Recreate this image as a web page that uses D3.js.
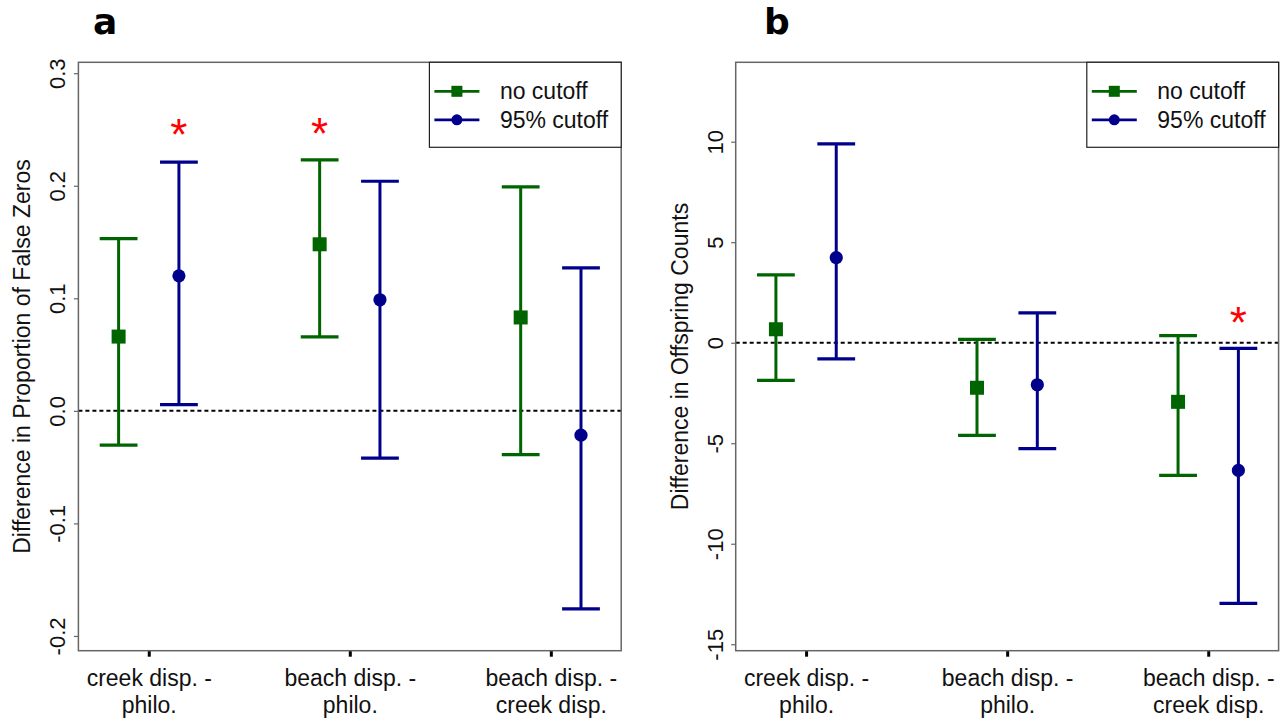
<!DOCTYPE html>
<html>
<head>
<meta charset="utf-8">
<script src="https://cdn.jsdelivr.net/npm/d3@7/dist/d3.min.js"></script>
<style>
  html, body { margin: 0; padding: 0; background: #fff; }
  svg { display: block; font-family: "Liberation Sans", Arial, sans-serif; }
</style>
</head>
<body>
<svg id="chart" width="1284" height="723"></svg>
<script>
// Comparison categories (two-line tick labels)
const categories = [
  ["creek disp. -", "philo."],
  ["beach disp. -", "philo."],
  ["beach disp. -", "creek disp."]
];
const seriesNames = ["no cutoff", "95% cutoff"];

// Panel a: difference in proportion of false zeros
const propNoCutEst  = [0.066, 0.148, 0.083];
const propNoCutLow  = [-0.0305, 0.0658, -0.0388];
const propNoCutHigh = [0.153, 0.223, 0.199];
const propCutEst    = [0.120, 0.0987, -0.0216];
const propCutLow    = [0.0056, -0.042, -0.176];
const propCutHigh   = [0.221, 0.204, 0.127];
const propTicks      = [-0.2, -0.1, 0.0, 0.1, 0.2, 0.3];
const propTickLabels = ["-0.2", "-0.1", "0.0", "0.1", "0.2", "0.3"];
// significance markers: [category index, series index, height]
const propStars = [[0, 1, 0.254], [1, 0, 0.255]];

// Panel b: difference in offspring counts
const offNoCutEst  = [0.67, -2.24, -2.94];
const offNoCutLow  = [-1.87, -4.61, -6.60];
const offNoCutHigh = [3.38, 0.17, 0.35];
const offCutEst    = [4.23, -2.09, -6.35];
const offCutLow    = [-0.80, -5.27, -12.97];
const offCutHigh   = [9.89, 1.49, -0.28];
const offTicks      = [-15, -10, -5, 0, 5, 10];
const offTickLabels = ["-15", "-10", "-5", "0", "5", "10"];
const offStars = [[2, 1, 1.46]];

const colors = ["#006400", "#00008B"];
const svg = d3.select("#chart");

function panel(cfg) {
  const { left, right, top, bottom } = cfg;
  const x = d3.scaleLinear().domain([0.65, 3.35]).range([left, right]);
  const y = d3.scaleLinear().domain(cfg.yDomain).range([bottom, top]);
  const g = svg.append("g");
  const offsets = [-0.15, 0.15];
  const capHalf = 0.094;

  // zero reference line
  g.append("line")
    .attr("x1", left).attr("x2", right)
    .attr("y1", y(0)).attr("y2", y(0))
    .attr("stroke", "#000").attr("stroke-width", 2)
    .attr("stroke-dasharray", "4,3");

  const series = [
    { est: cfg.s0[0], lo: cfg.s0[1], hi: cfg.s0[2] },
    { est: cfg.s1[0], lo: cfg.s1[1], hi: cfg.s1[2] }
  ];

  series.forEach((s, si) => {
    const sg = g.append("g").attr("stroke", colors[si]).attr("fill", colors[si]);
    const idx = d3.range(categories.length);
    const cx = i => x(i + 1 + offsets[si]);
    sg.selectAll("line.v").data(idx).join("line")
      .attr("x1", cx).attr("x2", cx)
      .attr("y1", i => y(s.lo[i])).attr("y2", i => y(s.hi[i]))
      .attr("stroke-width", 3);
    ["lo", "hi"].forEach(k => {
      sg.selectAll("line." + k).data(idx).join("line")
        .attr("x1", i => x(i + 1 + offsets[si] - capHalf))
        .attr("x2", i => x(i + 1 + offsets[si] + capHalf))
        .attr("y1", i => y(s[k][i])).attr("y2", i => y(s[k][i]))
        .attr("stroke-width", 3.2);
    });
    if (si === 0) {
      sg.selectAll("rect").data(idx).join("rect")
        .attr("x", i => cx(i) - 7).attr("y", i => y(s.est[i]) - 7)
        .attr("width", 14).attr("height", 14).attr("stroke", "none");
    } else {
      sg.selectAll("circle").data(idx).join("circle")
        .attr("cx", cx).attr("cy", i => y(s.est[i]))
        .attr("r", 6.6).attr("stroke", "none");
    }
  });

  // significance asterisks
  g.selectAll("text.star").data(cfg.stars).join("text")
    .attr("class", "star")
    .attr("x", d => x(d[0] + 1 + offsets[d[1]]))
    .attr("y", d => y(d[2]) + 25)
    .attr("text-anchor", "middle")
    .attr("font-size", 44)
    .attr("fill", "#ff0000")
    .text("*");

  // y axis
  const ya = g.append("g").attr("transform", `translate(${left},0)`)
    .call(d3.axisLeft(y).tickValues(cfg.ticks).tickSize(4.5)
      .tickFormat((d, i) => cfg.tickLabels[i]));
  ya.select(".domain").remove();
  ya.selectAll(".tick line").attr("stroke", "#666").attr("stroke-width", 1.2);
  ya.selectAll(".tick text")
    .attr("x", null).attr("dy", null)
    .attr("transform", "translate(-13,0) rotate(-90)")
    .attr("text-anchor", "middle")
    .attr("font-size", 22)
    .attr("fill", "#111")
    .attr("font-family", "Liberation Sans, Arial, sans-serif");

  // x axis
  const xa = g.append("g").attr("transform", `translate(0,${bottom})`)
    .call(d3.axisBottom(x).tickValues([1, 2, 3]).tickSize(6).tickFormat(""));
  xa.select(".domain").remove();
  xa.selectAll(".tick line").attr("stroke", "#000").attr("stroke-width", 3);
  xa.selectAll(".tick text").remove();
  xa.selectAll(".tick").append("text")
    .attr("text-anchor", "middle")
    .attr("font-size", 23)
    .attr("fill", "#111")
    .attr("font-family", "Liberation Sans, Arial, sans-serif")
    .selectAll("tspan").data((d, i) => categories[i]).join("tspan")
    .attr("x", 0)
    .attr("y", (d, j) => 35 + j * 27)
    .text(d => d);

  // plot frame
  g.append("rect")
    .attr("x", left).attr("y", top)
    .attr("width", right - left).attr("height", bottom - top)
    .attr("fill", "none").attr("stroke", "#666").attr("stroke-width", 1.5);

  // y axis title
  g.append("text")
    .attr("transform", `translate(${left - 48},${(top + bottom) / 2}) rotate(-90)`)
    .attr("text-anchor", "middle")
    .attr("font-size", 23)
    .attr("fill", "#111")
    .text(cfg.yTitle);

  // legend
  const lx = cfg.legendLeft, ly = top;
  const lg = g.append("g");
  lg.append("rect")
    .attr("x", lx).attr("y", ly).attr("width", right - lx).attr("height", 85)
    .attr("fill", "#fff").attr("stroke", "#222").attr("stroke-width", 1.2);
  seriesNames.forEach((name, si) => {
    const ry = ly + 29 + si * 28.5;
    lg.append("line")
      .attr("x1", lx + 5).attr("x2", lx + 50)
      .attr("y1", ry).attr("y2", ry)
      .attr("stroke", colors[si]).attr("stroke-width", 2.8);
    if (si === 0) {
      lg.append("rect").attr("x", lx + 27.5 - 5.5).attr("y", ry - 5.5)
        .attr("width", 11).attr("height", 11).attr("fill", colors[si]);
    } else {
      lg.append("circle").attr("cx", lx + 27.5).attr("cy", ry)
        .attr("r", 5.5).attr("fill", colors[si]);
    }
    lg.append("text")
      .attr("x", lx + 70.5).attr("y", ry + 8)
      .attr("font-size", 23).attr("fill", "#111")
      .text(name);
  });

  // panel letter
  svg.append("text")
    .attr("x", cfg.letterX).attr("y", 33.5)
    .attr("font-family", "DejaVu Sans, sans-serif")
    .attr("font-weight", 700)
    .attr("font-size", 36)
    .attr("fill", "#000")
    .text(cfg.letter);
}

panel({
  left: 78.4, right: 621.2, top: 62.3, bottom: 650.7,
  yDomain: [-0.2131, 0.3097],
  s0: [propNoCutEst, propNoCutLow, propNoCutHigh],
  s1: [propCutEst, propCutLow, propCutHigh],
  ticks: propTicks, tickLabels: propTickLabels,
  stars: propStars,
  yTitle: "Difference in Proportion of False Zeros",
  legendLeft: 429.4,
  letter: "a", letterX: 93
});

panel({
  left: 735.7, right: 1278.6, top: 62.3, bottom: 650.7,
  yDomain: [-15.32, 13.95],
  s0: [offNoCutEst, offNoCutLow, offNoCutHigh],
  s1: [offCutEst, offCutLow, offCutHigh],
  ticks: offTicks, tickLabels: offTickLabels,
  stars: offStars,
  yTitle: "Difference in Offspring Counts",
  legendLeft: 1086.8,
  letter: "b", letterX: 764
});
</script>
</body>
</html>
